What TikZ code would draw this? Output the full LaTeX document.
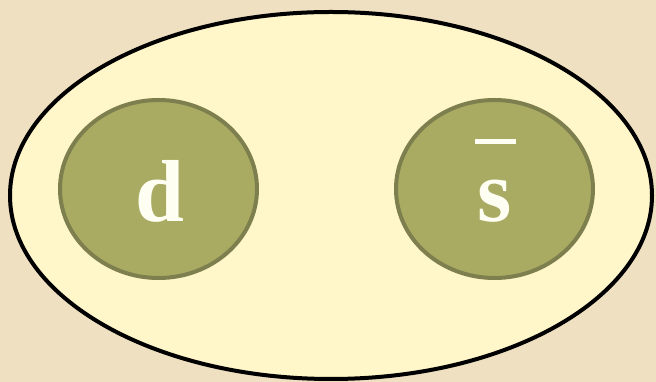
\documentclass[tikz,border=0pt]{standalone}
\usepackage{fontspec}
\setmainfont{Liberation Serif}
\usetikzlibrary{shapes.geometric}
\definecolor{bgc}{HTML}{EEE0C0}
\definecolor{bigfill}{HTML}{FFF6C9}
\definecolor{olivefill}{HTML}{A9AB63}
\definecolor{olivedraw}{HTML}{7E7F4E}
\definecolor{txtc}{HTML}{FFFEF2}
\tikzset{
  quark/.style={ellipse, draw=olivedraw, fill=olivefill, line width=4pt, minimum width=197pt, minimum height=178pt, inner sep=0pt},
  hadron/.style={ellipse, draw=black, fill=bigfill, line width=4pt, minimum width=642pt, minimum height=367pt, inner sep=0pt},
  lbl/.style={text=txtc, font=\fontsize{88}{88}\selectfont\bfseries, anchor=base, inner sep=0pt}
}
\begin{document}
\begin{tikzpicture}[x=1pt,y=1pt]
\fill[bgc] (0,0) rectangle (656,382);
\useasboundingbox (0,0) rectangle (656,382);
\node[hadron] (h) at (331,186.5) {};
\node[quark] (q1) at (158.5,193) {};
\node[quark] (q2) at (494.5,193) {};
\node[lbl] (d) at (160,160) {d};
\node[lbl] (s) at (495,160) {s};
\fill[txtc] (475,238) rectangle (516,243);
\end{tikzpicture}
\end{document}
